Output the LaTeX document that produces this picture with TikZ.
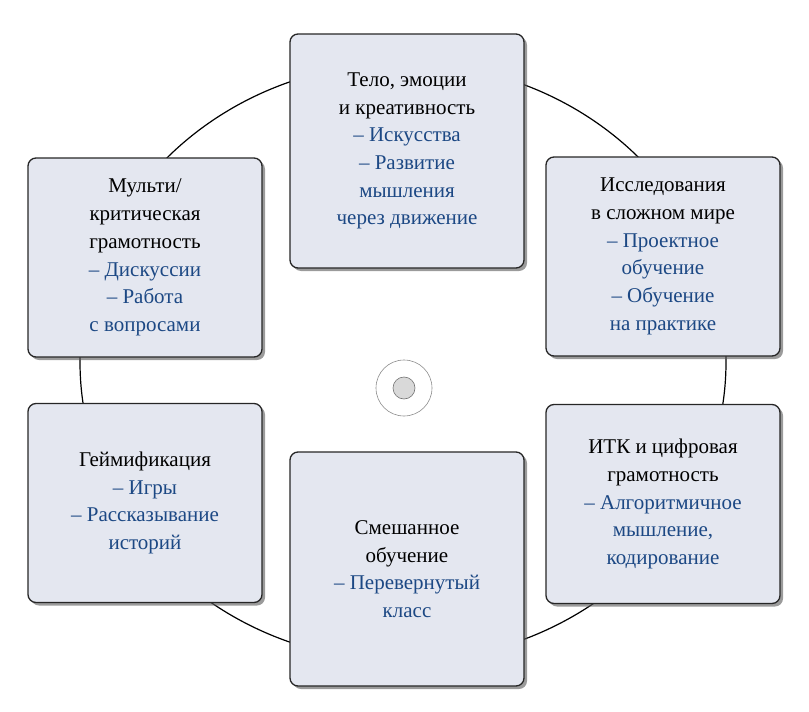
\documentclass[tikz,border=0pt]{standalone}
\usepackage{fontspec}
\setmainfont{LiberationSerif}[Extension=.ttf, UprightFont=*-Regular, BoldFont=*-Bold]
\usetikzlibrary{shadows}
\definecolor{boxfill}{RGB}{228,231,240}
\definecolor{itemblue}{RGB}{28,72,132}
\newcommand{\bl}[1]{\textcolor{itemblue}{#1}}
\tikzset{
	topic/.style={draw=black!85, line width=1.3pt, fill=boxfill, rounded corners=8pt,
		align=center, inner sep=0pt, minimum width=234pt,
		drop shadow={shadow xshift=3pt, shadow yshift=-3pt, opacity=0.6, fill=black!65},
		font=\fontsize{21}{27.7}\selectfont},
	tall/.style={minimum height=234pt},
	short/.style={minimum height=199pt},
}
\begin{document}
\begin{tikzpicture}[x=1pt,y=-1pt]
			% keep the page at the size of the reference
			\useasboundingbox (0,0) rectangle (809,712);
			
			% ring behind the boxes
			\draw[line width=1.2pt] (403,362) ellipse [x radius=323, y radius=299];
			
			% hub in the middle
			\node[circle, draw=black!45, line width=0.6pt, minimum size=56pt] (hub) at (404,388) {};
			\node[circle, draw=black!55, fill=black!15, line width=0.6pt, minimum size=22pt] (hubdot) at (hub) {};
			
			% the six topics
			\node[topic, tall] (body) at (407,151) {Тело, эмоции\\и креативность\\\bl{– Искусства}\\\bl{– Развитие}\\\bl{мышления}\\\bl{через движение}};
			\node[topic, short] (literacy) at (145,257.5) {Мульти/\\критическая\\грамотность\\\bl{– Дискуссии}\\\bl{– Работа}\\\bl{с вопросами}};
			\node[topic, short] (research) at (663,256.5) {Исследования\\в сложном мире\\\bl{– Проектное}\\\bl{обучение}\\\bl{– Обучение}\\\bl{на практике}};
			\node[topic, short] (games) at (145,503) {Геймификация\\\bl{– Игры}\\\bl{– Рассказывание}\\\bl{историй}};
			\node[topic, short] (ict) at (663,504) {ИТК и цифровая\\грамотность\\\bl{– Алгоритмичное}\\\bl{мышление,}\\\bl{кодирование}};
			\node[topic, tall] (blended) at (407,569) {Смешанное\\обучение\\\bl{– Перевернутый}\\\bl{класс}};
			
\end{tikzpicture}
\end{document}
